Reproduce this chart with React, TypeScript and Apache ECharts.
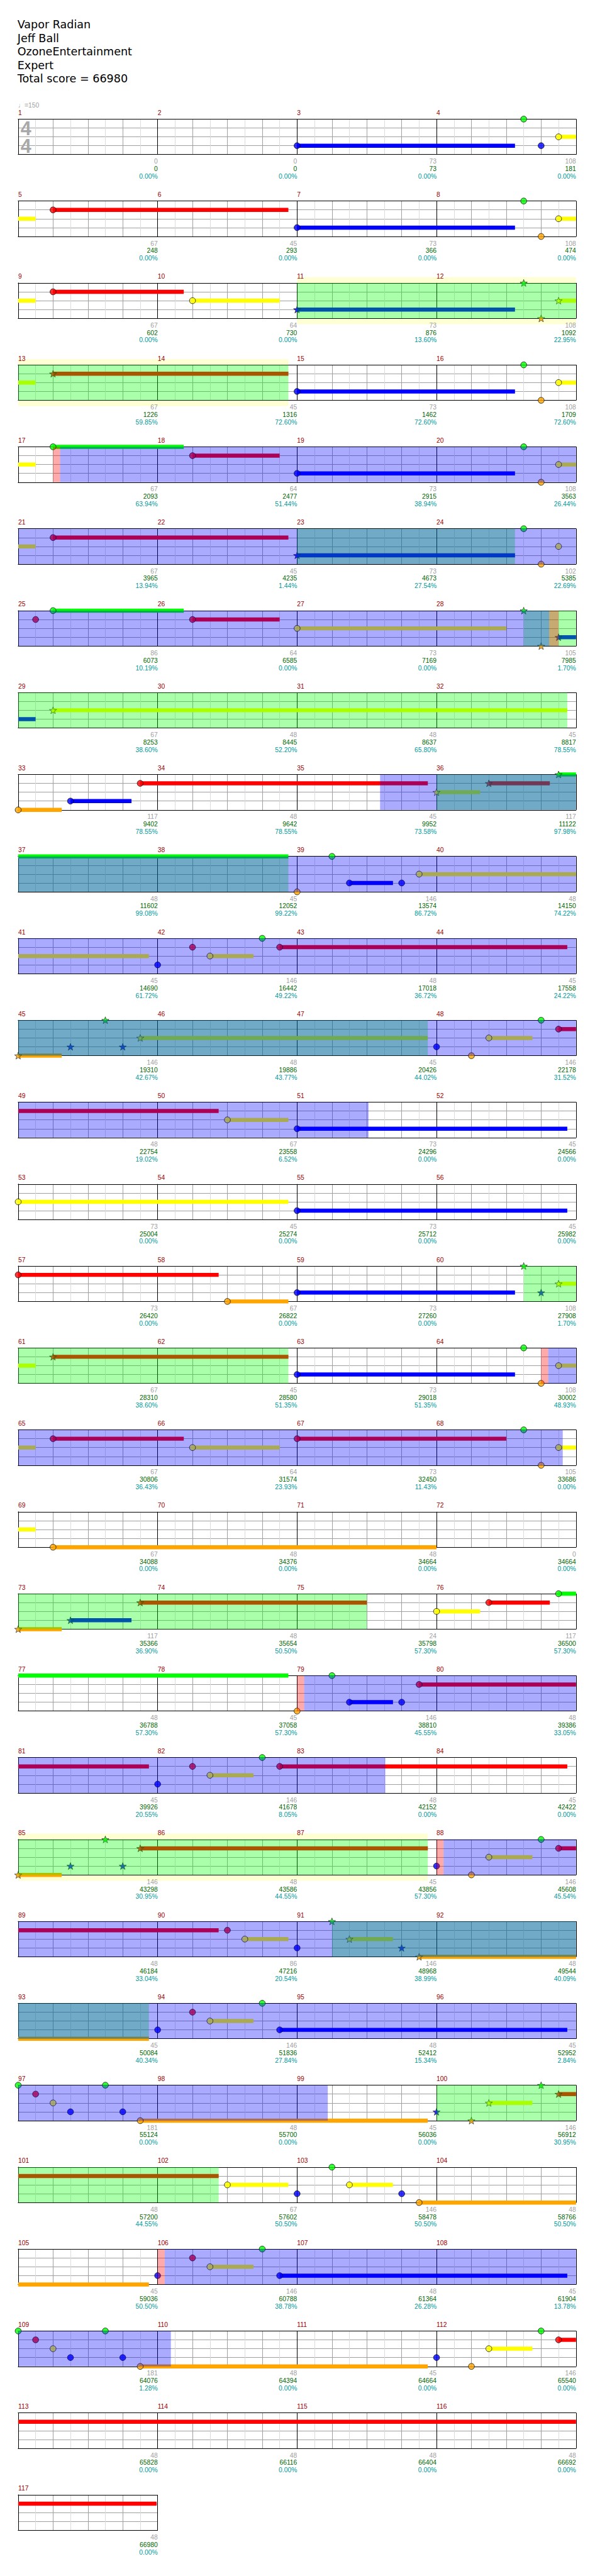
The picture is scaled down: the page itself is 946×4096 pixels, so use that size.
import React, { useEffect, useRef } from 'react';
import * as echarts from 'echarts';

// ---------------- data ----------------
const TITLE_LINES = ['Vapor Radian', 'Jeff Ball', 'OzoneEntertainment', 'Expert', 'Total score = 66980'];
const TEMPO = '\u2669=150';
const TIME_SIG = ['4', '4'];
const TOTAL_MEASURES = 117;
const LANE_COLORS = ['#00ff00', '#ff0000', '#ffff00', '#0000ff', '#ffa500'];

// notes: [beat, lane (0 green .. 4 orange), sustain end beat (0 = none), star (1 = star note)]
const NOTES: number[][] = [
  [8, 3, 14.25, 0], [14.5, 0, 0, 0], [15, 3, 0, 0], [15.5, 2, 16.5, 0],
  [17, 1, 23.75, 0], [24, 3, 30.25, 0], [30.5, 0, 0, 0], [31, 4, 0, 0], [31.5, 2, 32.5, 0],
  [33, 1, 36.75, 0], [37, 2, 39.5, 0], [40, 3, 46.25, 1], [46.5, 0, 0, 1], [47, 4, 0, 1], [47.5, 2, 48.5, 1],
  [49, 1, 55.75, 1], [56, 3, 62.25, 0], [62.5, 0, 0, 0], [63, 4, 0, 0], [63.5, 2, 64.5, 0],
  [65, 0, 68.75, 0], [69, 1, 71.5, 0], [72, 3, 78.25, 0], [78.5, 0, 0, 0], [79, 4, 0, 0], [79.5, 2, 80.5, 0],
  [81, 1, 87.75, 0], [88, 3, 94.25, 1], [94.5, 0, 0, 0], [95, 4, 0, 0], [95.5, 2, 0, 0],
  [96.5, 1, 0, 0], [97, 0, 100.75, 0], [101, 1, 103.5, 0], [104, 2, 110, 0], [110.5, 0, 0, 1], [111, 4, 0, 1], [111.5, 3, 112.5, 1],
  [113, 2, 127.75, 1],
  [128, 4, 129.25, 0], [129.5, 3, 131.25, 0], [131.5, 1, 139.75, 0], [140, 2, 141.25, 1], [141.5, 1, 143.25, 1], [143.5, 0, 151.75, 1],
  [152, 4, 0, 0], [153, 0, 0, 0], [153.5, 3, 154.75, 0], [155, 3, 0, 0], [155.5, 2, 163.75, 0],
  [164, 3, 0, 0], [165, 1, 0, 0], [165.5, 2, 166.75, 0], [167, 0, 0, 0], [167.5, 1, 175.75, 0],
  [176, 4, 177.25, 1], [177.5, 3, 0, 1], [178.5, 0, 0, 1], [179, 3, 0, 1], [179.5, 2, 187.75, 1],
  [188, 3, 0, 0], [189, 4, 0, 0], [189.5, 2, 190.75, 0], [191, 0, 0, 0], [191.5, 1, 197.75, 0],
  [198, 2, 199.75, 0], [200, 3, 207.75, 0],
  [208, 2, 215.75, 0], [216, 3, 223.75, 0],
  [224, 1, 229.75, 0], [230, 4, 231.75, 0], [232, 3, 238.25, 0], [238.5, 0, 0, 1], [239, 3, 0, 1], [239.5, 2, 240.5, 1],
  [241, 1, 247.75, 1], [248, 3, 254.25, 0], [254.5, 0, 0, 0], [255, 4, 0, 0], [255.5, 2, 256.5, 0],
  [257, 1, 260.75, 0], [261, 2, 263.5, 0], [264, 1, 270, 0], [270.5, 0, 0, 0], [271, 4, 0, 0], [271.5, 2, 272.5, 0],
  [273, 4, 284, 0],
  [288, 4, 289.25, 1], [289.5, 3, 291.25, 1], [291.5, 1, 298, 1], [300, 2, 301.25, 0], [301.5, 1, 303.25, 0], [303.5, 0, 311.75, 0],
  [312, 4, 0, 0], [313, 0, 0, 0], [313.5, 3, 314.75, 0], [315, 3, 0, 0], [315.5, 1, 323.75, 0],
  [324, 3, 0, 0], [325, 1, 0, 0], [325.5, 2, 326.75, 0], [327, 0, 0, 0], [327.5, 1, 335.75, 0],
  [336, 4, 337.25, 1], [337.5, 3, 0, 1], [338.5, 0, 0, 1], [339, 3, 0, 1], [339.5, 1, 347.75, 1],
  [348, 3, 0, 0], [349, 4, 0, 0], [349.5, 2, 350.75, 0], [351, 0, 0, 0], [351.5, 1, 357.75, 0],
  [358, 1, 0, 0], [358.5, 2, 359.75, 0], [360, 3, 0, 0], [361, 0, 0, 1], [361.5, 2, 362.75, 1], [363, 3, 0, 1], [363.5, 4, 371.75, 1],
  [372, 3, 0, 0], [373, 1, 0, 0], [373.5, 2, 374.75, 0], [375, 0, 0, 0], [375.5, 3, 383.75, 0],
  [384, 0, 0, 0], [384.5, 1, 0, 0], [385, 2, 0, 0], [385.5, 3, 0, 0], [386.5, 0, 0, 0], [387, 3, 0, 0], [387.5, 4, 395.75, 0],
  [396, 3, 0, 1], [397, 4, 0, 1], [397.5, 2, 398.75, 1], [399, 0, 0, 1], [399.5, 1, 405.75, 1],
  [406, 2, 407.75, 0], [408, 3, 0, 0], [409, 0, 0, 0], [409.5, 2, 410.75, 0], [411, 3, 0, 0], [411.5, 4, 419.75, 0],
  [420, 3, 0, 0], [421, 1, 0, 0], [421.5, 2, 422.75, 0], [423, 0, 0, 0], [423.5, 3, 431.75, 0],
  [432, 0, 0, 0], [432.5, 1, 0, 0], [433, 2, 0, 0], [433.5, 3, 0, 0], [434.5, 0, 0, 0], [435, 3, 0, 0], [435.5, 4, 443.75, 0],
  [444, 3, 0, 0], [445, 4, 0, 0], [445.5, 2, 446.75, 0], [447, 0, 0, 0], [447.5, 1, 467.97, 0],
];

// shaded regions, in beats
const GREEN_AREAS = [[40, 55.75], [88, 94.25], [110.5, 127.75], [140, 151.75], [176, 187.75], [238.5, 247.75], [288, 298], [336, 347.75], [361, 371.75], [396, 405.75]];
const BLUE_AREAS = [[65.2, 111.23], [138.38, 202.05], [255.2, 271.62], [312.2, 330.53], [348.2, 392.88], [420.2, 436.38]];
const RED_AREAS = [[65, 65.2], [111.23, 111.5], [255, 255.2], [312, 312.2], [348, 348.2], [420, 420.2]];
const BAND_AREAS = [[40, 55.75], [336, 347.75]];

const MEASURE_SCORES = [
  0, 0, 73, 108, 67, 45, 73, 108, 67, 64, 73, 108, 67, 45, 73, 108,
  67, 64, 73, 108, 67, 45, 73, 102, 86, 64, 73, 105, 67, 48, 48, 45,
  117, 48, 45, 117, 48, 45, 146, 48, 45, 146, 48, 45, 146, 48, 45, 146,
  48, 67, 73, 45, 73, 45, 73, 45, 73, 67, 73, 108, 67, 45, 73, 108,
  67, 64, 73, 105, 67, 48, 48, 0, 117, 48, 24, 117, 48, 45, 146, 48,
  45, 146, 48, 45, 146, 48, 45, 146, 48, 86, 146, 48, 45, 146, 48, 45,
  181, 48, 45, 146, 48, 67, 146, 48, 45, 146, 48, 45, 181, 48, 45, 146,
  48, 48, 48, 48, 48,
];
const TOTAL_SCORES = [
  0, 0, 73, 181, 248, 293, 366, 474, 602, 730, 876, 1092, 1226, 1316, 1462, 1709,
  2093, 2477, 2915, 3563, 3965, 4235, 4673, 5385, 6073, 6585, 7169, 7985, 8253, 8445, 8637, 8817,
  9402, 9642, 9952, 11122, 11602, 12052, 13574, 14150, 14690, 16442, 17018, 17558, 19310, 19886, 20426, 22178,
  22754, 23558, 24296, 24566, 25004, 25274, 25712, 25982, 26420, 26822, 27260, 27908, 28310, 28580, 29018, 30002,
  30806, 31574, 32450, 33686, 34088, 34376, 34664, 34664, 35366, 35654, 35798, 36500, 36788, 37058, 38810, 39386,
  39926, 41678, 42152, 42422, 43298, 43586, 43856, 45608, 46184, 47216, 48968, 49544, 50084, 51836, 52412, 52952,
  55124, 55700, 56036, 56912, 57200, 57602, 58478, 58766, 59036, 60788, 61364, 61904, 64076, 64394, 64664, 65540,
  65828, 66116, 66404, 66692, 66980,
];
const PERCENTS = [
  0, 0, 0, 0, 0, 0, 0, 0, 0, 0, 13.6, 22.95, 59.85, 72.6, 72.6, 72.6,
  63.94, 51.44, 38.94, 26.44, 13.94, 1.44, 27.54, 22.69, 10.19, 0, 0, 1.7, 38.6, 52.2, 65.8, 78.55,
  78.55, 78.55, 73.58, 97.98, 99.08, 99.22, 86.72, 74.22, 61.72, 49.22, 36.72, 24.22, 42.67, 43.77, 44.02, 31.52,
  19.02, 6.52, 0, 0, 0, 0, 0, 0, 0, 0, 0, 1.7, 38.6, 51.35, 51.35, 48.93,
  36.43, 23.93, 11.43, 0, 0, 0, 0, 0, 36.9, 50.5, 57.3, 57.3, 57.3, 57.3, 45.55, 33.05,
  20.55, 8.05, 0, 0, 30.95, 44.55, 57.3, 45.54, 33.04, 20.54, 38.99, 40.09, 40.34, 27.84, 15.34, 2.84,
  0, 0, 0, 30.95, 44.55, 50.5, 50.5, 50.5, 50.5, 38.78, 26.28, 13.78, 1.28, 0, 0, 0,
  0, 0, 0, 0, 0,
];

// ---------------- layout ----------------
const S = 946 / 1024;
const px = (v: number) => v * S;
const FF = '"Liberation Sans", Arial, "DejaVu Sans", sans-serif';
const FS = px(11.2);
const STAR_PATH = 'path://M0,-10 L2.35,-3.24 L9.51,-3.09 L3.8,1.24 L5.88,8.09 L0,4 L-5.88,8.09 L-3.8,1.24 L-9.51,-3.09 L-2.35,-3.24 Z';

function clipAreas(areas: number[][], lo: number, hi: number) {
  return areas.filter((a) => a[1] > lo && a[0] < hi).map((a) => [Math.max(a[0], lo), Math.min(a[1], hi)]);
}

function buildOption() {
  const rows = Math.ceil(TOTAL_MEASURES / 4);
  const grid: any[] = [];
  const xAxis: any[] = [];
  const yAxis: any[] = [];
  const series: any[] = [];
  for (let r = 0; r < rows; r++) {
    const nMeas = Math.min(4, TOTAL_MEASURES - 4 * r);
    const lo = 16 * r;
    const hi = lo + 4 * nMeas;
    grid.push({ left: px(31.3), top: px(205 + 141 * r), width: px(240 * nMeas), height: px(61) });
    xAxis.push({
      type: 'value', gridIndex: r, min: lo, max: hi, interval: 1, position: 'bottom', z: 1,
      axisLine: { show: true, onZero: false, lineStyle: { color: '#000', width: 1 } },
      axisTick: { show: false },
      splitLine: { show: true, lineStyle: { color: ['#000', '#a0a0a0', '#a0a0a0', '#a0a0a0'], width: 1 } },
      minorTick: { show: false, splitNumber: 2 },
      minorSplitLine: { show: true, lineStyle: { color: '#dcdcdc', width: 1 } },
      axisLabel: {
        show: true, showMinLabel: true, showMaxLabel: true,
        align: 'right', verticalAlign: 'top', margin: px(5.6),
        formatter: (v: number) => {
          if (v <= lo || Math.round(v) % 4 !== 0) return '';
          const m = Math.round(v) / 4 - 1;
          return `{a|${MEASURE_SCORES[m]}}\n{b|${TOTAL_SCORES[m]}}\n{c|${PERCENTS[m].toFixed(2)}%}`;
        },
        rich: {
          a: { color: '#a0a0a0', fontSize: FS, fontFamily: FF, lineHeight: px(12.8), align: 'right' },
          b: { color: '#006600', fontSize: FS, fontFamily: FF, lineHeight: px(12.8), align: 'right' },
          c: { color: '#009999', fontSize: FS, fontFamily: FF, lineHeight: px(12.8), align: 'right' },
        },
      },
    });
    xAxis.push({
      type: 'value', gridIndex: r, min: lo, max: hi, interval: 4, position: 'top', z: 1,
      axisLine: { show: true, onZero: false, lineStyle: { color: '#000', width: 1 } },
      axisTick: { show: false }, splitLine: { show: false },
      axisLabel: {
        show: true, showMinLabel: true, showMaxLabel: true,
        align: 'left', verticalAlign: 'middle', margin: px(10.8), color: '#990000', fontSize: FS, fontFamily: FF,
        formatter: (v: number) => (v < hi ? String(Math.round(v) / 4 + 1) : ''),
      },
    });
    yAxis.push({
      type: 'value', gridIndex: r, min: 0, max: 4, interval: 1, inverse: true, z: 1,
      axisLine: { show: true, onZero: false, lineStyle: { color: '#000', width: 1 } },
      axisTick: { show: false }, axisLabel: { show: false },
      splitLine: { show: true, lineStyle: { color: ['#000', '#a0a0a0', '#a0a0a0', '#a0a0a0', '#000'], width: 1 } },
    });
    const xi = 2 * r;

    // light band around some star phrases
    series.push({
      type: 'custom', xAxisIndex: xi, yAxisIndex: r, z: 0, silent: true, encode: { x: [0, 1], y: 2 },
      data: clipAreas(BAND_AREAS, lo, hi).map((a) => [a[0], a[1], 0]),
      renderItem: (_p: any, api: any) => {
        const p0 = api.coord([api.value(0), 0]);
        const p1 = api.coord([api.value(1), 4]);
        const h = px(10);
        return {
          type: 'group', children: [
            { type: 'rect', shape: { x: p0[0], y: p0[1] - h, width: p1[0] - p0[0], height: h }, style: { fill: '#ffffd4' } },
            { type: 'rect', shape: { x: p0[0], y: p1[1], width: p1[0] - p0[0], height: h }, style: { fill: '#ffffd4' } },
          ],
        };
      },
    });

    // sustains
    const sus = NOTES.filter((n) => n[2] > 0 && n[2] > lo && n[0] < hi).map((n) => [Math.max(n[0], lo), Math.min(n[2], hi), n[1]]);
    series.push({
      type: 'custom', xAxisIndex: xi, yAxisIndex: r, z: 2, silent: true, encode: { x: [0, 1], y: 2 },
      data: sus,
      renderItem: (_p: any, api: any) => {
        const lane = api.value(2);
        const p0 = api.coord([api.value(0), lane]);
        const p1 = api.coord([api.value(1), lane]);
        const h = px(7);
        return { type: 'rect', shape: { x: p0[0], y: p0[1] - h / 2, width: p1[0] - p0[0], height: h }, style: { fill: LANE_COLORS[lane] } };
      },
    });

    // note heads
    const heads = NOTES.filter((n) => n[0] >= lo && n[0] < hi).map((n) => ({
      value: [n[0], n[1]],
      symbol: n[3] ? STAR_PATH : 'circle',
      symbolSize: n[3] ? px(12.5) : px(10.4),
      itemStyle: { color: LANE_COLORS[n[1]], borderColor: '#000', borderWidth: n[3] ? 0.7 : 0.9 },
    }));
    series.push({
      type: 'scatter', xAxisIndex: xi, yAxisIndex: r, z: 3, silent: true, clip: false,
      symbolKeepAspect: true, data: heads,
    });

    // translucent overlays (green phrase, blue activation, red marker)
    const ov: number[][] = [];
    clipAreas(GREEN_AREAS, lo, hi).forEach((a) => ov.push([a[0], a[1], 0, 0]));
    clipAreas(BLUE_AREAS, lo, hi).forEach((a) => ov.push([a[0], a[1], 0, 1]));
    clipAreas(RED_AREAS, lo, hi).forEach((a) => ov.push([a[0], a[1], 0, 2]));
    const ovFill = ['rgba(0,255,0,0.333)', 'rgba(0,0,255,0.333)', 'rgba(255,0,0,0.333)'];
    series.push({
      type: 'custom', xAxisIndex: xi, yAxisIndex: r, z: 5, silent: true, encode: { x: [0, 1], y: 2 },
      data: ov,
      renderItem: (_p: any, api: any) => {
        const p0 = api.coord([api.value(0), 0]);
        const p1 = api.coord([api.value(1), 4]);
        return { type: 'rect', shape: { x: p0[0], y: p0[1], width: p1[0] - p0[0], height: p1[1] - p0[1] }, style: { fill: ovFill[api.value(3)] } };
      },
    });
  }

  return {
    animation: false,
    backgroundColor: '#fff',
    title: {
      text: TITLE_LINES.join('\n'), left: px(30), top: px(42.5 - 11.65), padding: 0,
      textStyle: { fontFamily: '"DejaVu Sans", sans-serif', fontSize: px(19), fontWeight: 'normal', color: '#000', lineHeight: px(23.3) },
    },
    graphic: [
      { type: 'text', z: 10, x: px(31), y: px(181), style: { text: TEMPO, fill: '#a0a0a0', font: `${FS}px ${FF}`, textVerticalAlign: 'middle', verticalAlign: 'middle' } },
      { type: 'text', z: 10, x: px(44.5), y: px(221), style: { text: TIME_SIG[0], fill: '#a8a8a8', font: `bold ${px(33)}px "Liberation Sans", Arial, sans-serif`, textAlign: 'center', align: 'center', textVerticalAlign: 'middle', verticalAlign: 'middle' } },
      { type: 'text', z: 10, x: px(44.5), y: px(251), style: { text: TIME_SIG[1], fill: '#a8a8a8', font: `bold ${px(33)}px "Liberation Sans", Arial, sans-serif`, textAlign: 'center', align: 'center', textVerticalAlign: 'middle', verticalAlign: 'middle' } },
    ],
    grid, xAxis, yAxis, series,
  };
}

export default function App() {
  const ref = useRef<HTMLDivElement>(null);
  useEffect(() => {
    if (!ref.current) return;
    const chart = echarts.init(ref.current, null, { renderer: 'svg' });
    chart.setOption(buildOption() as any);
    return () => chart.dispose();
  }, []);
  return <div ref={ref} style={{ position: 'absolute', left: 0, top: 0, width: 946, height: 4096 }} />;
}
